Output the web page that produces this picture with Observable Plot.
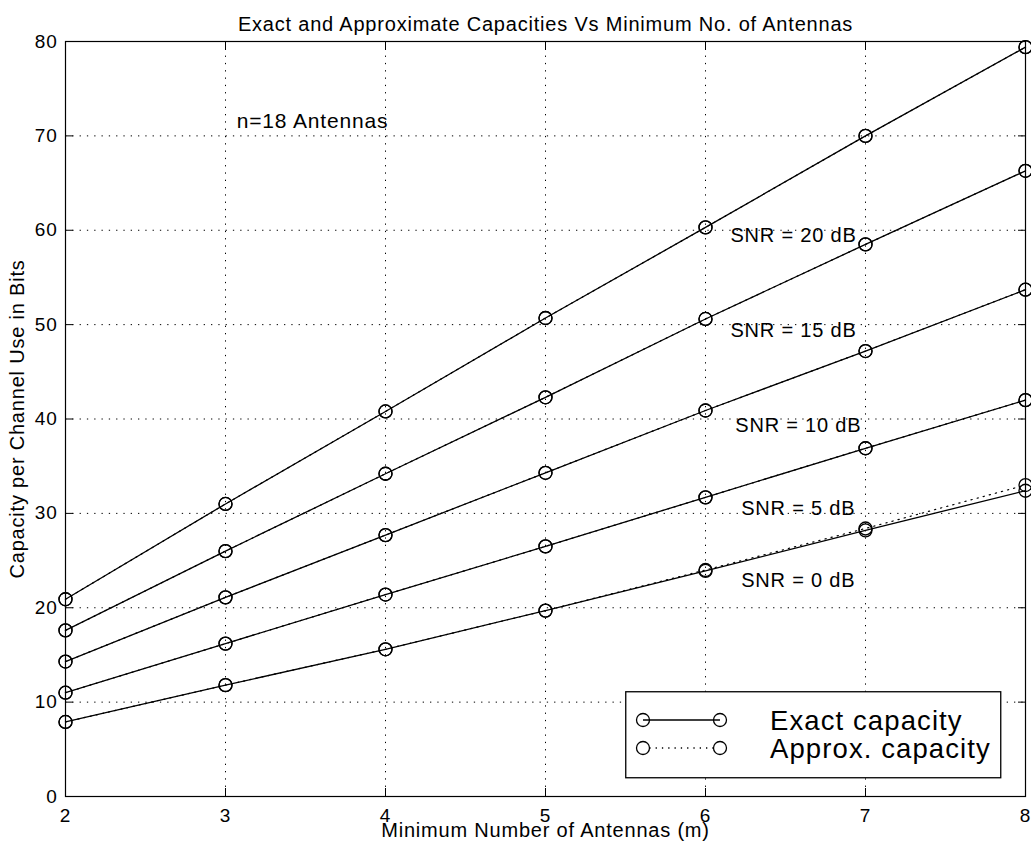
<!DOCTYPE html>
<html>
<head>
<meta charset="utf-8">
<script src="https://cdn.jsdelivr.net/npm/d3@7"></script>
<script src="https://cdn.jsdelivr.net/npm/@observablehq/plot@0.6"></script>
<style>
  html, body { margin: 0; padding: 0; background: #fff; }
  #wrap { position: relative; width: 1031px; height: 853px; font-family: "Liberation Sans", Arial, Helvetica, sans-serif; }
  #wrap svg text { letter-spacing: 0.04em; }
  #legend { position: absolute; left: 625px; top: 691px; }
</style>
</head>
<body>
<div id="wrap"></div>
<script>
// Minimum number of antennas (m)
const antennas = [2, 3, 4, 5, 6, 7, 8];
const snrLabels = ["SNR = 0 dB", "SNR = 5 dB", "SNR = 10 dB", "SNR = 15 dB", "SNR = 20 dB"];

// Exact capacity (bits per channel use), n = 18 antennas
const exact0  = [7.9, 11.8, 15.6, 19.7, 23.9, 28.2, 32.4];
const exact5  = [11.0, 16.2, 21.4, 26.5, 31.7, 36.9, 42.0];
const exact10 = [14.3, 21.1, 27.7, 34.3, 40.9, 47.2, 53.7];
const exact15 = [17.6, 26.0, 34.2, 42.3, 50.6, 58.5, 66.3];
const exact20 = [20.9, 31.0, 40.8, 50.7, 60.3, 70.0, 79.4];

// Approximate capacity
const approx0  = [7.9, 11.8, 15.6, 19.7, 24.0, 28.4, 33.0];
const approx5  = [11.0, 16.2, 21.4, 26.5, 31.7, 36.9, 42.0];
const approx10 = [14.3, 21.1, 27.7, 34.3, 40.9, 47.2, 53.7];
const approx15 = [17.6, 26.0, 34.2, 42.3, 50.6, 58.5, 66.3];
const approx20 = [20.9, 31.0, 40.8, 50.7, 60.3, 70.0, 79.4];

// Curve annotations: position (m, capacity)
const labelX = [6.58, 6.58, 6.58, 6.55, 6.55];
const labelY = [22.9, 30.5, 39.3, 49.4, 59.4];

const xTicks = [2, 3, 4, 5, 6, 7, 8];
const yTicks = [0, 10, 20, 30, 40, 50, 60, 70, 80];

const exactSeries = [exact0, exact5, exact10, exact15, exact20];
const approxSeries = [approx0, approx5, approx10, approx15, approx20];

function toRows(series) {
  const rows = [];
  series.forEach((vals, s) => vals.forEach((v, i) => rows.push({snr: snrLabels[s], m: antennas[i], c: v})));
  return rows;
}
const exactRows = toRows(exactSeries);
const approxRows = toRows(approxSeries);
const labelRows = snrLabels.map((t, i) => ({t, x: labelX[i], y: labelY[i]}));

const font = "Liberation Sans, Arial, Helvetica, sans-serif";
const blank = () => "";

const chart = Plot.plot({
  width: 1031,
  height: 853,
  marginLeft: 65,
  marginRight: 6,
  marginTop: 41,
  marginBottom: 57,
  style: {fontFamily: font, fontSize: "20px", background: "#fff", color: "#000"},
  x: {domain: [2, 8]},
  y: {domain: [0, 80]},
  marks: [
    Plot.gridX(xTicks.slice(1, -1), {stroke: "#000", strokeOpacity: 1, strokeDasharray: "1.3,6"}),
    Plot.gridY(yTicks.slice(1, -1), {stroke: "#000", strokeOpacity: 1, strokeDasharray: "1.3,6"}),
    Plot.axisX(xTicks, {anchor: "bottom", tickSize: -8, tickPadding: 20, tickFormat: "d", label: "Minimum Number of Antennas (m)", labelAnchor: "center", labelArrow: "none", labelOffset: 40}),
    Plot.axisX(xTicks, {anchor: "top", tickSize: -8, tickFormat: blank, label: null}),
    Plot.axisY(yTicks, {anchor: "left", tickSize: -8, tickPadding: 16, tickFormat: "d", label: "Capacity per Channel Use in Bits", labelAnchor: "center", labelArrow: "none", labelOffset: 56}),
    Plot.axisY(yTicks, {anchor: "right", tickSize: -8, tickFormat: blank, label: null}),
    Plot.frame({stroke: "#000", strokeWidth: 1.2}),
    Plot.line(approxRows, {x: "m", y: "c", z: "snr", stroke: "#000", strokeWidth: 1.2, strokeDasharray: "1.3,5"}),
    Plot.line(exactRows, {x: "m", y: "c", z: "snr", stroke: "#000", strokeWidth: 1.3}),
    Plot.dot(approxRows, {x: "m", y: "c", r: 6.5, stroke: "#000", strokeWidth: 1.3, fill: "none"}),
    Plot.dot(exactRows, {x: "m", y: "c", r: 6.5, stroke: "#000", strokeWidth: 1.3, fill: "none"}),
    Plot.text(labelRows, {x: "x", y: "y", text: "t", fontSize: 20, fill: "#000"}),
    Plot.text(["n=18 Antennas"], {x: 3.07, y: 71.6, text: d => d, textAnchor: "start", fontSize: 21, fill: "#000"}),
    Plot.text(["Exact and Approximate Capacities Vs Minimum No. of Antennas"], {frameAnchor: "top", dy: -25, text: d => d, fontSize: 20, fill: "#000"})
  ]
});
document.getElementById("wrap").appendChild(chart);

// Axis text sizes
const svg = d3.select(chart);
svg.selectAll('g[aria-label$="tick label"]').attr("font-size", null).style("font-size", "19px");
svg.selectAll('g[aria-label$="tick label"] text').attr("font-size", null).style("font-size", "19px");
svg.selectAll('g[aria-label="x-axis label"], g[aria-label="y-axis label"]').style("font-size", "20px");

// Legend box inside the lower-right of the plot area
const lg = d3.select("#wrap").append("svg")
  .attr("id", "legend").attr("width", 377).attr("height", 88)
  .style("font-family", font);
lg.append("rect").attr("x", 0.75).attr("y", 0.75).attr("width", 375).attr("height", 86)
  .attr("fill", "#fff").attr("stroke", "#000").attr("stroke-width", 1.3);
const entries = [
  {label: "Exact capacity", dash: null, y: 29},
  {label: "Approx. capacity", dash: "1.3,5", y: 57}
];
entries.forEach(e => {
  lg.append("line").attr("x1", 18).attr("x2", 95).attr("y1", e.y).attr("y2", e.y)
    .attr("stroke", "#000").attr("stroke-width", 1.3).attr("stroke-dasharray", e.dash);
  [18, 95].forEach(cx => lg.append("circle").attr("cx", cx).attr("cy", e.y).attr("r", 6.5)
    .attr("fill", e.dash ? "#fff" : "none").attr("stroke", "#000").attr("stroke-width", 1.3));
  lg.append("text").attr("x", 145).attr("y", e.y).attr("dy", "0.36em")
    .attr("font-size", 27.5).attr("fill", "#000").text(e.label);
});
</script>
</body>
</html>
